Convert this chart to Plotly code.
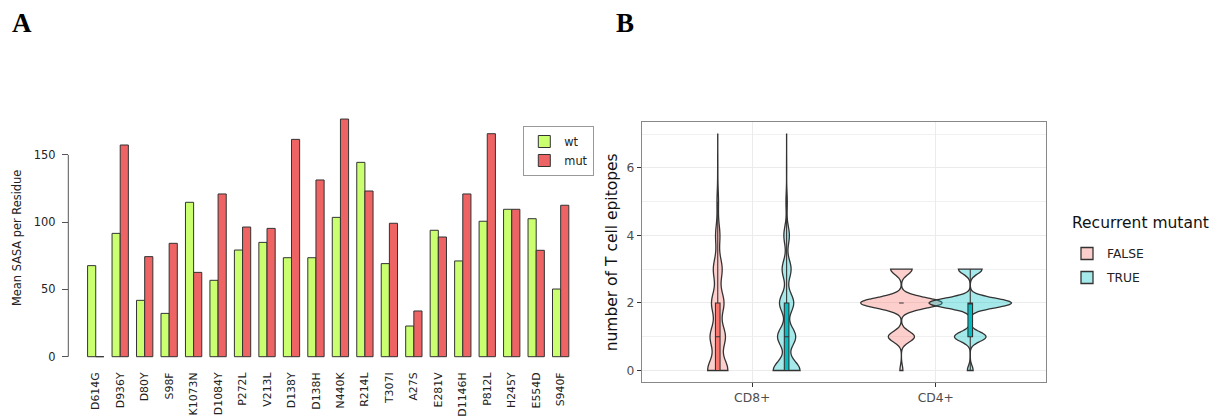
import numpy as np
import plotly.graph_objects as go

W, H = 1218, 419

# ---------------- Panel A data ----------------
mutations = ["D614G", "D936Y", "D80Y", "S98F", "K1073N", "D1084Y", "P272L", "V213L",
             "D138Y", "D138H", "N440K", "R214L", "T307I", "A27S", "E281V", "D1146H",
             "P812L", "H245Y", "E554D", "S940F"]
sasa_wt = [67.7, 91.7, 41.9, 32.2, 114.8, 56.8, 79.3, 85.0, 73.6, 73.6,
           103.6, 144.5, 69.2, 22.8, 94.0, 71.2, 100.7, 109.6, 102.6, 50.3]
sasa_mut = [0.0, 157.4, 74.4, 84.3, 62.7, 121.0, 96.4, 95.4, 161.6, 131.4,
            176.7, 123.2, 99.2, 34.0, 89.0, 121.0, 165.8, 109.6, 79.1, 112.6]
sasa_ticks = [0, 50, 100, 150]

# ---------------- Panel B data ----------------
cell_types = ["CD8+", "CD4+"]
epitope_values = [0, 1, 2, 3, 4, 5, 6, 7]
# number of mutants having each epitope count (0,1,2,...)
cd8_false = [258, 194, 158, 112, 55, 19, 3, 1]
cd8_true = [678, 458, 359, 226, 139, 33, 5, 2]
cd4_false = [18, 158, 494, 130]
cd4_true = [76, 418, 1093, 313]


def px_x(p):
    return p / W


def px_y(p):
    return 1 - p / H


def bw_nrd0(x):
    """R's default bandwidth (as used by ggplot2's geom_violin)."""
    x = np.asarray(x, float)
    hi = x.std(ddof=1)
    q75, q25 = np.percentile(x, [75, 25])
    lo = min(hi, (q75 - q25) / 1.34)
    if not lo:
        lo = hi or abs(x[0]) or 1.0
    return 0.9 * lo * len(x) ** -0.2


def kde_peak(vals, bw):
    """Peak of the gaussian KDE inside the data range (for ggplot 'area' scaling)."""
    u, c = np.unique(vals, return_counts=True)
    grid = np.linspace(u.min(), u.max(), 4001)
    k = np.exp(-0.5 * ((grid[:, None] - u[None, :]) / bw) ** 2) @ c
    return (k / (len(vals) * bw * np.sqrt(2 * np.pi))).max()


fig = go.Figure()

# ---- Panel A bars ----
fig.add_trace(go.Bar(x=mutations, y=sasa_wt, name="wt",
                     marker=dict(color="#CAFF70", line=dict(color="#333333", width=1)),
                     xaxis="x", yaxis="y", legend="legend"))
fig.add_trace(go.Bar(x=mutations, y=sasa_mut, name="mut",
                     marker=dict(color="#EE6363", line=dict(color="#333333", width=1)),
                     xaxis="x", yaxis="y", legend="legend"))

# ---- Panel B violins (ggplot-like: dodge 0.75, width 0.9, scale = "area") ----
dodge = 0.1875
max_width = 0.45
box_half = 0.0125
groups = [
    ("FALSE", "#F8766D", "rgba(248,118,109,0.35)", -dodge, [cd8_false, cd4_false]),
    ("TRUE", "#00BFC4", "rgba(0,191,196,0.35)", dodge, [cd8_true, cd4_true]),
]
specs = []
for name, color, fill, off, counts_list in groups:
    for i, counts in enumerate(counts_list):
        vals = np.repeat(epitope_values[:len(counts)], counts)
        bw = bw_nrd0(vals)
        specs.append((name, color, fill, i + 1 + off, vals, bw, kde_peak(vals, bw), i == 0))
global_peak = max(s[6] for s in specs)

for name, color, fill, pos, vals, bw, peak, show in specs:
    w = max_width * peak / global_peak
    fig.add_trace(go.Violin(
        x=np.full(len(vals), pos), y=vals, name=name,
        legendgroup=name, showlegend=show, legend="legend2",
        width=w, scalemode="width", spanmode="hard",
        bandwidth=bw, points=False,
        fillcolor=fill, line=dict(color="#333333", width=1.3),
        box=dict(visible=True, width=box_half / (w / 2), fillcolor=color,
                 line=dict(color="#333333", width=1.1)),
        meanline=dict(visible=False),
        xaxis="x2", yaxis="y2", hoverinfo="skip"))

fig.update_layout(
    template="none",
    width=W, height=H,
    margin=dict(l=0, r=0, t=0, b=0),
    paper_bgcolor="white", plot_bgcolor="white",
    font=dict(family="DejaVu Sans", color="#222222"),
    barmode="group", bargap=1 / 3, bargroupgap=0,
    violinmode="overlay",
    xaxis=dict(domain=[px_x(83.5), px_x(572.9)], type="category", range=[-0.5, 19.5],
               tickangle=-90, tickfont=dict(size=10.9, color="#222222"),
               showline=False, showgrid=False, zeroline=False, ticks="",
               anchor="y", automargin=False, ticklabelstandoff=3),
    yaxis=dict(domain=[px_y(366.2), px_y(109.5)], range=[-7.07, 183.8],
               tickvals=sasa_ticks, ticks="outside", ticklen=6.6, tickwidth=1,
               tickcolor="#555555", tickfont=dict(size=11.4, color="#222222"),
               showgrid=False, zeroline=False, showline=False,
               anchor="free", position=px_x(68.3), automargin=False,
               ticklabelstandoff=4,
               title=dict(text="Mean SASA per Residue", font=dict(size=11.4, color="#222222"),
                          standoff=8)),
    xaxis2=dict(domain=[px_x(642), px_x(1046)], range=[0.4, 2.6],
                tickvals=[1, 2], ticktext=cell_types,
                ticks="outside", ticklen=4, tickwidth=1, tickcolor="#333333",
                tickfont=dict(size=12.3, color="#4D4D4D"),
                showline=True, mirror=True, linecolor="#888888", linewidth=1.2,
                showgrid=True, gridcolor="#EBEBEB", gridwidth=1.1, zeroline=False,
                anchor="y2", automargin=False),
    yaxis2=dict(domain=[px_y(382.3), px_y(122.3)], range=[-0.35, 7.35],
                tickmode="linear", tick0=0, dtick=2,
                ticks="outside", ticklen=4, tickwidth=1, tickcolor="#333333",
                tickfont=dict(size=12.3, color="#4D4D4D"),
                showline=True, mirror=True, linecolor="#888888", linewidth=1.2,
                showgrid=True, gridcolor="#EBEBEB", gridwidth=1.1, zeroline=False,
                minor=dict(dtick=1, tick0=0, showgrid=True, gridcolor="#F0F0F0",
                           gridwidth=0.8, ticks=""),
                anchor="x2", automargin=False,
                title=dict(text="number of T cell epitopes",
                           font=dict(size=15.5, color="#111111"), standoff=5)),
    legend=dict(x=px_x(523.3), y=px_y(126), xanchor="left", yanchor="top",
                bordercolor="#999999", borderwidth=1, bgcolor="white",
                font=dict(size=11.4, color="#222222")),
    legend2=dict(x=px_x(1067), y=px_y(239), xanchor="left", yanchor="top",
                 bgcolor="rgba(0,0,0,0)", borderwidth=0,
                 font=dict(size=12.3, color="#222222"),
                 traceorder="grouped", tracegroupgap=5),
    shapes=[dict(type="line", xref="paper", yref="y", x0=px_x(68.3), x1=px_x(68.3),
                 y0=sasa_ticks[0], y1=sasa_ticks[-1], line=dict(color="#555555", width=1))],
    annotations=[
        dict(text="<b>A</b>", x=px_x(10), y=px_y(23), xref="paper", yref="paper",
             xanchor="left", yanchor="middle", showarrow=False,
             font=dict(family="Liberation Serif", size=27, color="black")),
        dict(text="<b>B</b>", x=px_x(614), y=px_y(23), xref="paper", yref="paper",
             xanchor="left", yanchor="middle", showarrow=False,
             font=dict(family="Liberation Serif", size=27, color="black")),
        dict(text="Recurrent mutant", x=px_x(1070), y=px_y(223), xref="paper", yref="paper",
             xanchor="left", yanchor="middle", showarrow=False,
             font=dict(family="DejaVu Sans", size=15.5, color="#111111")),
    ],
)

fig.write_html("out.html", config={"displayModeBar": False},
               post_script="document.body.style.margin='0px';document.body.style.overflow='hidden';")
